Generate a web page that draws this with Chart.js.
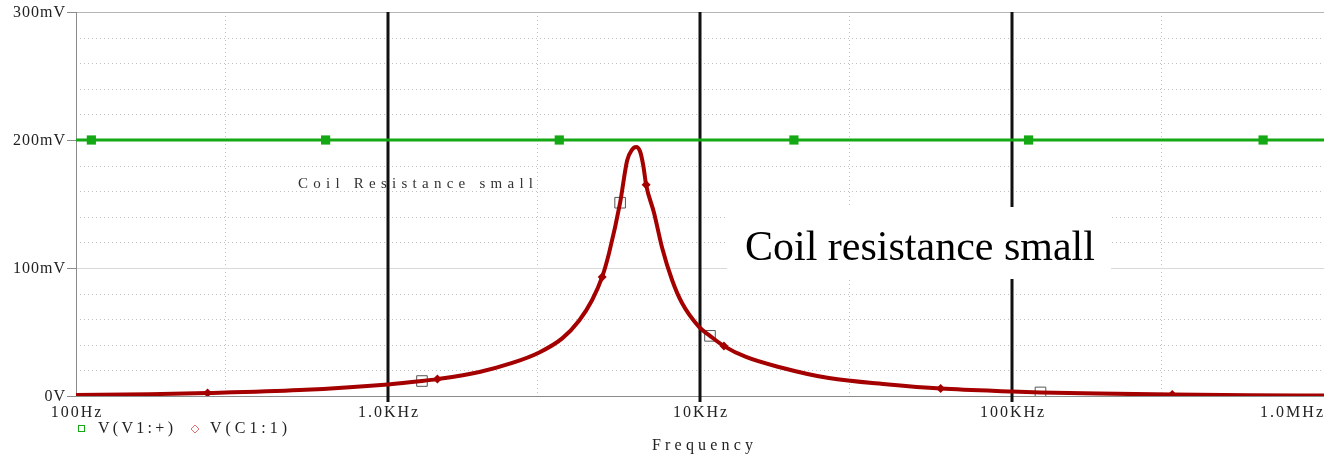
<!DOCTYPE html>
<html>
<head>
<meta charset="utf-8">
<script src="https://cdn.jsdelivr.net/npm/chart.js@4.4.1/dist/chart.umd.min.js"></script>
<style>
  html, body { margin: 0; padding: 0; background: #fff; }
  #wrap { width: 1324px; height: 454px; }
</style>
</head>
<body>
<div id="wrap"><canvas id="plot" width="1324" height="454"></canvas></div>
<script>
// V(C1:1) trace (Hz / mV)
const freqHz = [100, 172, 264, 521, 1000, 1285, 1440, 1963, 2502, 3053,
  3617, 4100, 4512, 4858, 5115, 5546, 5841, 6060, 6241, 6427,
  6580, 6719, 7125, 7557, 8137, 8757, 9927, 10765, 11935, 14040,
  17890, 25870, 40250, 59050, 100000, 123400, 189100, 326300, 571300, 1000000];
const vC1mV = [0.8, 1.4, 2.3, 4.6, 9.0, 11.7, 13.2, 18.8, 25.8, 34,
  45, 59, 75, 93, 112, 151, 184, 192.5, 194.5, 191,
  180, 165, 143, 116, 90.6, 72.6, 54, 47, 39, 30.5,
  22.7, 14, 9, 5.8, 3.5, 2.8, 1.9, 1.1, 0.6, 0.35];

// markers sitting on the red trace
const c1DiamondHz = [264, 1440, 4858, 6719, 11935, 59050, 326300];
const c1DiamondMV = [2.3, 13.2, 93, 165, 39, 5.8, 1.1];
const c1SquareHz = [1285, 5546, 10765, 123400];
const c1SquareMV = [11.7, 151, 47, 2.8];

// V(V1:+) is flat at 200mV
const v1MarkerHz = [112, 631, 3540, 20000, 113000, 638000];
const v1LevelMV = 200;

// axes
const xMinHz = 100, xMaxHz = 1000000;
const xTickHz = [100, 1000, 10000, 100000, 1000000];
const xTickLabels = ['100Hz', '1.0KHz', '10KHz', '100KHz', '1.0MHz'];
const yTickMV = [0, 100, 200, 300];
const yTickLabels = ['0V', '100mV', '200mV', '300mV'];
const cursorHz = [1000, 10000, 100000];
const xMinorHz = [300, 3000, 30000, 300000];

const GREEN = '#14a814';
const RED = '#a50000';
const SERIF = '"Liberation Serif", "DejaVu Serif", serif';

function line(ctx, x1, y1, x2, y2) {
  ctx.beginPath();
  ctx.moveTo(x1, y1);
  ctx.lineTo(x2, y2);
  ctx.stroke();
}

// text with letter spacing
function spaced(ctx, text, x, y, font, spacing, align) {
  ctx.font = font;
  ctx.letterSpacing = '0px';
  const w = ctx.measureText(text).width + spacing * (text.length - 1);
  let left = x;
  if (align === 'center') left = x - w / 2;
  if (align === 'right') left = x - w;
  ctx.letterSpacing = spacing + 'px';
  ctx.textAlign = 'left';
  ctx.fillText(text, left, y);
  ctx.letterSpacing = '0px';
}

// stretch a text between two x positions
function fitText(ctx, text, left, right, y, font) {
  ctx.font = font;
  ctx.letterSpacing = '0px';
  const w = ctx.measureText(text).width;
  const sp = (right - left - w) / (text.length - 1);
  spaced(ctx, text, left, y, font, sp, 'left');
}

const framePlugin = {
  id: 'pspiceFrame',
  beforeDatasetsDraw(chart) {
    const { ctx, chartArea: a, scales: { x, y } } = chart;
    ctx.save();
    ctx.lineWidth = 1;

    // dotted minor grid
    ctx.strokeStyle = '#c2c2c2';
    ctx.setLineDash([1, 3]);
    for (let v = 20; v < 300; v += 20) {
      if (v % 100 === 0) continue;
      const py = Math.round(y.getPixelForValue(v)) + 0.5;
      line(ctx, a.left, py, a.right, py);
    }
    for (const f of xMinorHz) {
      const px = Math.round(x.getPixelForValue(f)) + 0.5;
      line(ctx, px, a.top, px, a.bottom);
    }
    ctx.setLineDash([]);

    // major horizontal grid
    ctx.strokeStyle = '#d9d9d9';
    for (const v of [100, 200]) {
      const py = Math.round(y.getPixelForValue(v)) + 0.5;
      line(ctx, a.left, py, a.right, py);
    }

    // frame
    ctx.strokeStyle = '#b5b5b5';
    line(ctx, a.left, a.top + 0.5, a.right, a.top + 0.5);
    ctx.strokeStyle = '#8c8c8c';
    line(ctx, a.left + 0.5, a.top, a.left + 0.5, a.bottom);
    line(ctx, a.left, a.bottom + 0.5, a.right, a.bottom + 0.5);

    // little y tick dashes
    for (const v of yTickMV) {
      const py = Math.round(y.getPixelForValue(v)) + 0.5;
      line(ctx, a.left - 9, py, a.left, py);
    }

    // black cursor lines
    ctx.strokeStyle = '#111';
    ctx.lineWidth = 3;
    for (const f of cursorHz) {
      const px = Math.round(x.getPixelForValue(f));
      line(ctx, px, a.top, px, a.bottom + 6);
    }
    ctx.restore();
  },
  afterDraw(chart) {
    const { ctx, chartArea: a, scales: { x, y } } = chart;
    ctx.save();
    ctx.fillStyle = '#222';
    ctx.textBaseline = 'middle';

    // y tick labels
    yTickMV.forEach((v, i) => {
      spaced(ctx, yTickLabels[i], a.left - 11, y.getPixelForValue(v) + 1, '16px ' + SERIF, 1, 'right');
    });

    // x tick labels, last one kept inside the canvas
    xTickHz.forEach((f, i) => {
      const font = '16px ' + SERIF;
      const txt = xTickLabels[i];
      ctx.font = font;
      const w = ctx.measureText(txt).width + 2 * (txt.length - 1);
      let cx = x.getPixelForValue(f);
      if (cx + w / 2 > chart.width - 1) cx = chart.width - 1 - w / 2;
      spaced(ctx, txt, cx, a.bottom + 17, font, 2, 'center');
    });

    // axis title
    fitText(ctx, 'Frequency', 652, 753, 446, '16px ' + SERIF);

    // legend
    ctx.lineWidth = 1;
    ctx.strokeStyle = GREEN;
    ctx.strokeRect(78.5, 425.5, 6, 6);
    fitText(ctx, 'V(V1:+)', 98, 173, 429, '16px ' + SERIF);
    ctx.strokeStyle = '#e07070';
    ctx.beginPath();
    ctx.moveTo(195, 425); ctx.lineTo(199, 429); ctx.lineTo(195, 433); ctx.lineTo(191, 429);
    ctx.closePath();
    ctx.stroke();
    ctx.fillStyle = '#222';
    fitText(ctx, 'V(C1:1)', 210, 287, 429, '16px ' + SERIF);

    // small PSpice label
    ctx.fillStyle = '#333';
    fitText(ctx, 'Coil Resistance small', 298, 533, 184, '15px ' + SERIF);

    // pasted annotation box
    ctx.fillStyle = '#fff';
    ctx.fillRect(727, 207, 384, 72);
    ctx.fillStyle = '#000';
    ctx.textBaseline = 'alphabetic';
    ctx.font = '42px ' + SERIF;
    ctx.textAlign = 'left';
    ctx.fillText('Coil resistance small', 745, 260);
    ctx.restore();
  }
};

const redTrace = freqHz.map((f, i) => ({ x: f, y: vC1mV[i] }));
const redDiamonds = c1DiamondHz.map((f, i) => ({ x: f, y: c1DiamondMV[i] }));
const redSquares = c1SquareHz.map((f, i) => ({ x: f, y: c1SquareMV[i] }));
const greenPts = [xMinHz, ...v1MarkerHz, xMaxHz].map(f => ({ x: f, y: v1LevelMV }));

new Chart(document.getElementById('plot').getContext('2d'), {
  type: 'scatter',
  data: {
    datasets: [
      {
        label: 'V(V1:+)',
        data: greenPts,
        showLine: true,
        borderColor: GREEN,
        borderWidth: 3,
        backgroundColor: GREEN,
        pointStyle: 'rect',
        pointRadius: c => (c.dataIndex === 0 || c.dataIndex === greenPts.length - 1) ? 0 : 6.5,
        pointBorderWidth: 0
      },
      {
        label: 'V(C1:1)',
        data: redTrace,
        showLine: true,
        borderColor: RED,
        borderWidth: 4,
        cubicInterpolationMode: 'monotone',
        pointRadius: 0
      },
      {
        label: 'diamonds',
        data: redDiamonds,
        showLine: false,
        pointStyle: 'rectRot',
        pointRadius: 4.5,
        backgroundColor: RED,
        borderColor: RED,
        pointBorderWidth: 0
      },
      {
        label: 'squares',
        data: redSquares,
        showLine: false,
        pointStyle: 'rect',
        pointRadius: 7.5,
        backgroundColor: '#fff',
        borderColor: '#555',
        pointBorderWidth: 1
      }
    ]
  },
  options: {
    responsive: false,
    animation: false,
    devicePixelRatio: 1,
    layout: { autoPadding: false, padding: { left: 76, top: 12, right: 0, bottom: 58 } },
    plugins: { legend: { display: false }, tooltip: { enabled: false } },
    scales: {
      x: { type: 'logarithmic', min: xMinHz, max: xMaxHz, display: false },
      y: { type: 'linear', min: 0, max: 300, display: false }
    }
  },
  plugins: [framePlugin]
});
</script>
</body>
</html>
